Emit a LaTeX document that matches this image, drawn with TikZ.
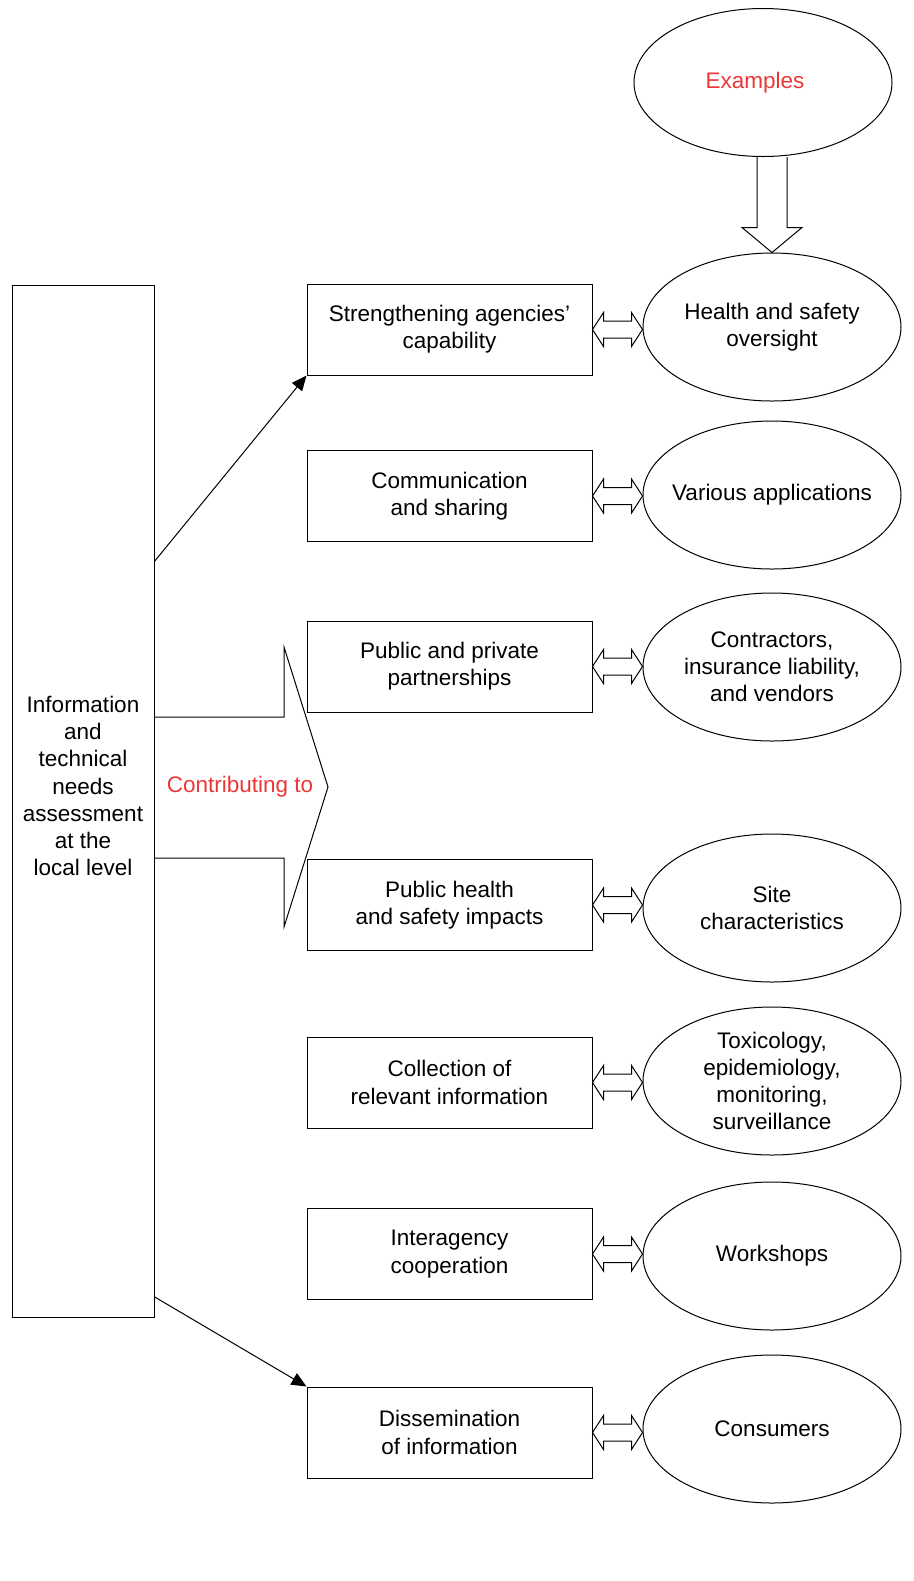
\documentclass[tikz,border=0pt]{standalone}
\usepackage{fontspec}
\setmainfont{Liberation Sans}
\usetikzlibrary{shapes.geometric, arrows.meta, positioning, calc}
\definecolor{exred}{RGB}{235,55,55}

% hollow two-headed arrow between a box and an oval
\newcommand{\dblarrow}[2]{%
  \draw let \p1=(#1.east), \p2=(#2.west) in
    (\x1,\y1) -- ++(5.5pt,8.5pt) -- ++(0pt,-4.25pt) -- (\x2-5.5pt,\y1+4.25pt)
    -- ++(0pt,4.25pt) -- (\x2,\y1) -- ++(-5.5pt,-8.5pt) -- ++(0pt,4.25pt)
    -- (\x1+5.5pt,\y1-4.25pt) -- ++(0pt,-4.25pt) -- cycle;}

\begin{document}
\begin{tikzpicture}[x=0.5pt, y=-0.5pt, line width=0.5pt,
    font=\fontsize{11.25}{13.6}\selectfont,
    box/.style={draw, minimum width=142.5pt, minimum height=45.5pt, align=center, inner sep=0pt},
    oval/.style={draw, ellipse, minimum width=129pt, minimum height=74pt, align=center, inner sep=0pt},
    tip/.style={-{Triangle[length=7.5pt,width=6.5pt]}}]
    \useasboundingbox (0,0) rectangle (914,1581);

    \node[draw, minimum width=71pt, minimum height=516pt] (needs) at (83,801) {};
    \node[align=center] (needstext) at (83,786) {Information\\and\\technical\\needs\\assessment\\at the\\local level};

    \node[box] (r1) at (449.5,329.5) {Strengthening agencies’\\capability};
    \node[box] (r2) at (449.5,496) {Communication\\and sharing};
    \node[box] (r3) at (449.5,666.5) {Public and private\\partnerships};
    \node[box] (r4) at (449.5,905) {Public health\\and safety impacts};
    \node[box] (r5) at (449.5,1082.5) {Collection of\\relevant information};
    \node[box] (r6) at (449.5,1254) {Interagency\\cooperation};
    \node[box] (r7) at (449.5,1432.5) {Dissemination\\of information};

    \node[oval] (examples) at (763,82.5) {\textcolor{exred}{Examples}\hspace*{8pt}};
    \node[oval] (e1) at (772,327) {Health and safety\\oversight};
    \node[oval, inner xsep=-7pt] (e2) at (772,495) {\raisebox{3pt}{Various applications}};
    \node[oval] (e3) at (772,667) {Contractors,\\insurance liability,\\and vendors};
    \node[oval] (e4) at (772,908) {Site\\characteristics};
    \node[oval] (e5) at (772,1081) {Toxicology,\\epidemiology,\\monitoring,\\surveillance};
    \node[oval] (e6) at (772,1256) {Workshops};
    \node[oval] (e7) at (772,1429) {Consumers};

    % wide arrow out of the left box
    \draw (154,717) -- (284,717) -- (284,647) -- (328,787) -- (284,927) -- (284,858) -- (154,858);
    \node[text=exred] (contrib) at (240,787) {Contributing to};

    \draw[tip] ($(needs.north east)!0.268!(needs.south east)$) -- (r1.south west);
    \draw[tip] ($(needs.north east)!0.98!(needs.south east)$) -- (r7.north west);

    % hollow arrow down from Examples
    \draw let \p1=(examples.south), \p2=(e1.north) in
        (\x2-7.5pt,\y1) -- (\x2-7.5pt,\y2+12.5pt) -- (\x2-15pt,\y2+12.5pt) -- (\x2,\y2)
        -- (\x2+15pt,\y2+12.5pt) -- (\x2+7.5pt,\y2+12.5pt) -- (\x2+7.5pt,\y1);

    \dblarrow{r1}{e1}
    \dblarrow{r2}{e2}
    \dblarrow{r3}{e3}
    \dblarrow{r4}{e4}
    \dblarrow{r5}{e5}
    \dblarrow{r6}{e6}
    \dblarrow{r7}{e7}
\end{tikzpicture}
\end{document}
